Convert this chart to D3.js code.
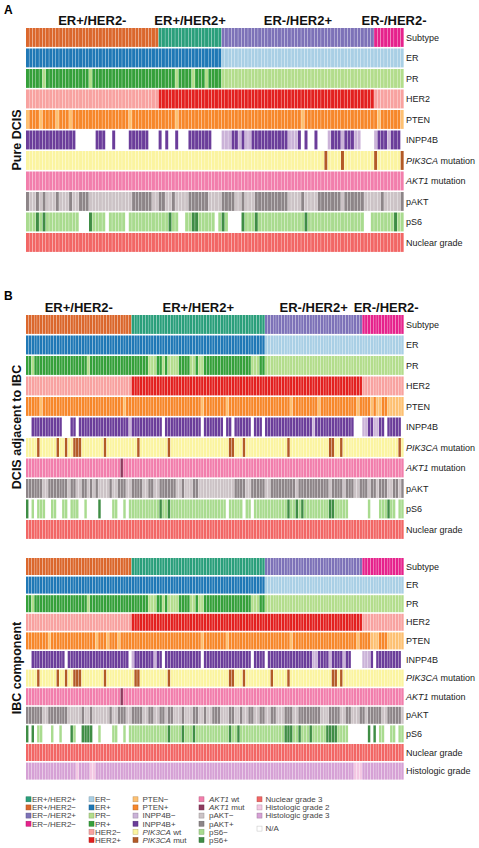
<!DOCTYPE html>
<html><head><meta charset="utf-8">
<script src="https://cdn.jsdelivr.net/npm/d3@7"></script>
<style>body{margin:0;background:#fff}svg{display:block;font-family:Arial,"Liberation Sans",sans-serif}</style>
</head><body><svg id="c" width="479" height="848"></svg>
<script>
// ---------- DATA (run-length: [value, number of consecutive samples]) ----------
const nA = 114, nB = 136;
const groupNames = {a:"ER+/HER2-", b:"ER+/HER2+", c:"ER-/HER2+", d:"ER-/HER2-"};
const rowLabels = ["Subtype","ER","PR","HER2","PTEN","INPP4B","PIK3CA mutation","AKT1 mutation","pAKT","pS6","Nuclear grade","Histologic grade"];

// Panel A – pure DCIS
const subtypeA = [["a",40],["b",19],["c",46],["d",9]];
const erA  = [["1",59],["0",55]];
const prA  = [["1",5],["0",1],["1",13],["0",1],["1",25],["0",1],["1",4],["0",1],["1",3],["0",1],["1",4],["0",55]];
const her2A = [["0",40],["1",65],["0",9]];
const ptenA = [["0",1],["1",3],["0",1],["1",4],["0",1],["1",3],["0",1],["1",17],["0",1],["1",13],["0",1],["1",37],["0",1],["1",22],["0",1],["1",6],["0",1]];
const inpp4bA = [["1",15],["n",6],["1",3],["n",2],["1",1],["n",4],["1",6],["n",3],["1",1],["n",1],["1",1],["n",2],["1",1],["n",3],["1",7],["n",3],
  ["0",3],["1",2],["0",1],["1",1],["0",2],["1",11],["0",3],["1",1],["n",1],["1",1],["n",2],["1",1],["n",3],["0",1],["1",3],["0",1],["1",3],["0",2],["n",4],["0",1],["1",3],["0",1],["1",3],["n",1]];
const pik3caA = [["0",90],["1",1],["0",4],["1",1],["0",9],["1",1],["0",7],["1",1]];
const akt1A = [["0",114]];
const paktA = [["1",1],["0",2],["1",1],["0",1],["1",1],["0",3],["1",1],["0",3],["1",1],["0",2],["1",3],["0",13],["1",6],["0",2],["1",2],["0",2],["1",1],["0",4],["1",6],["0",4],["1",4],["0",2],["1",1],["0",3],["1",10],["0",4],["1",1],["0",4],["1",7],["0",1],["1",6],["0",5],["1",1],["0",5],["1",1]];
const ps6A = [["0",3],["1",1],["0",1],["1",1],["0",10],["n",3],["1",1],["0",4],["n",1],["0",5],["n",1],["0",12],["1",1],["0",2],["n",2],["0",2],["1",2],["0",5],["n",1],["0",1],["1",1],["0",1],["n",4],["1",1],["0",3],["1",1],["0",14],["1",1],["0",17],["n",2],["0",7],["1",1],["0",2]];
const ngA = [["3",114]];

// Panel B – shared receptor status (paired samples)
const subtypeB = [["a",38],["b",48],["c",35],["d",15]];
const erB  = [["1",86],["0",50]];
const prB  = [["1",2],["0",1],["1",19],["0",1],["1",21],["0",3],["1",2],["0",1],["1",1],["0",4],["1",4],["0",2],["1",1],["0",2],["1",17],["0",3],["1",2],["0",50]];
const her2B = [["0",38],["1",83],["0",15]];

// Panel B – DCIS adjacent to IBC
const ptenB1 = [["1",5],["0",1],["1",29],["0",1],["1",27],["0",1],["1",8],["0",1],["1",22],["0",1],["1",9],["0",1],["1",13],["0",1],["1",4],["0",1],["1",1],["0",2],["1",2],["0",6]];
const inpp4bB1 = [["n",2],["1",11],["n",3],["1",2],["n",1],["1",18],["0",1],["1",11],["n",1],["1",13],["n",1],["1",7],["n",1],["1",2],["n",1],["1",6],["n",1],["1",3],["n",1],["1",17],["0",1],["1",14],["n",3],["0",2],["1",2],["0",2],["1",2],["n",1],["1",5],["n",1]];
const pik3caB1 = [["0",4],["1",1],["0",6],["1",1],["0",2],["1",1],["0",2],["1",3],["0",8],["1",1],["0",11],["1",1],["0",10],["1",1],["0",21],["1",2],["0",3],["1",1],["0",15],["1",1],["0",14],["1",2],["0",2],["1",1],["0",20],["1",1],["0",1]];
const akt1B1 = [["0",34],["1",1],["0",101]];
const paktB1 = [["1",6],["0",2],["1",7],["0",1],["1",2],["0",2],["1",2],["0",1],["1",1],["0",1],["1",1],["0",4],["1",1],["0",2],["1",3],["0",2],["1",4],["0",2],["1",2],["0",2],["1",6],["0",2],["1",1],["0",3],["1",2],["0",13],["1",4],["0",2],["1",5],["0",2],["1",9],["0",1],["1",11],["0",1],["1",4],["0",1],["1",3],["0",2],["1",3],["0",1],["1",2],["0",1],["1",3],["0",2],["1",2],["0",1],["1",1]];
const ps6B1 = [["1",1],["n",1],["0",1],["n",1],["0",3],["n",2],["0",2],["n",2],["0",2],["n",1],["0",3],["n",2],["0",1],["n",4],["1",1],["n",4],["0",2],["n",2],["0",1],["n",1],["0",11],["1",1],["0",2],["1",1],["0",20],["n",1],["0",5],["n",1],["0",2],["n",1],["0",12],["1",1],["0",2],["1",1],["0",1],["1",1],["0",9],["1",2],["0",5],["n",7],["0",1],["n",3],["0",3],["1",1],["0",2],["n",1],["0",2]];
const ngB1 = [["3",136]];

// Panel B – IBC component
const ptenB2 = [["1",8],["0",1],["1",16],["0",1],["1",3],["0",1],["1",3],["0",1],["1",29],["0",1],["1",8],["0",1],["1",22],["0",1],["1",23],["0",1],["1",4],["0",3],["1",3],["0",6]];
const inpp4bB2 = [["n",2],["1",12],["n",1],["1",22],["n",1],["0",1],["1",7],["0",1],["1",2],["n",1],["1",13],["n",1],["1",17],["n",1],["1",4],["n",1],["1",16],["0",2],["1",4],["0",1],["1",4],["0",1],["1",2],["n",4],["0",3],["1",1],["n",1],["1",9],["n",1]];
const pik3caB2 = [["0",4],["1",1],["0",6],["1",1],["0",2],["1",1],["0",2],["1",3],["0",8],["1",1],["0",10],["1",2],["0",10],["1",1],["0",21],["1",2],["0",3],["1",1],["0",9],["1",1],["0",5],["1",1],["0",15],["1",2],["0",1],["1",1],["0",22]];
const akt1B2 = [["0",34],["1",1],["0",101]];
const paktB2 = [["1",6],["0",2],["1",7],["0",5],["1",1],["0",2],["1",1],["0",6],["1",1],["0",2],["1",3],["0",2],["1",4],["0",2],["1",2],["0",2],["1",2],["0",1],["1",2],["0",3],["1",1],["0",3],["1",2],["0",2],["1",1],["0",2],["1",3],["0",3],["1",2],["0",2],["1",1],["0",2],["1",2],["0",2],["1",2],["0",2],["1",2],["0",3],["1",3],["0",2],["1",8],["0",3],["1",4],["0",2],["1",2],["0",3],["1",2],["0",1],["1",5],["0",2],["1",5],["0",1]];
const ps6B2 = [["1",1],["n",1],["1",1],["n",1],["0",2],["n",3],["0",1],["n",2],["0",1],["n",3],["1",1],["0",1],["n",2],["1",4],["n",2],["0",1],["n",4],["0",2],["n",2],["0",1],["n",1],["0",14],["1",1],["0",4],["1",1],["0",3],["1",1],["0",12],["1",1],["0",2],["1",1],["0",16],["1",3],["0",2],["1",1],["0",3],["1",1],["0",5],["1",4],["0",4],["n",7],["1",1],["n",1],["1",1],["n",1],["0",2],["n",2],["0",2],["n",1],["0",2]];
const ngB2 = [["3",136]];
const hgB2 = [["3",18],["2",1],["3",4],["2",2],["3",93],["2",3],["3",15]];

// ---------- COLOURS ----------
const pal = {
  "Subtype": {a:"#DB672C", b:"#2A9F7B", c:"#7D72B8", d:"#E6228C"},
  "ER": {"1":"#1F78B6", "0":"#A9CFE5"},
  "PR": {"1":"#35A03A", "0":"#B3DD8C"},
  "HER2": {"1":"#E3201F", "0":"#F8A2A0"},
  "PTEN": {"1":"#F7872A", "0":"#FDC072"},
  "INPP4B": {"1":"#6B3D9A", "0":"#CBB3D8"},
  "PIK3CA mutation": {"0":"#FBF4A0", "1":"#B35A27"},
  "AKT1 mutation": {"0":"#F27EAC", "1":"#8E3B5E"},
  "pAKT": {"0":"#CCC3C6", "1":"#8D8588"},
  "pS6": {"0":"#A9DB8F", "1":"#3F8D45"},
  "Nuclear grade": {"3":"#F26665"},
  "Histologic grade": {"2":"#F4C8E3", "3":"#D6A1D5"}
};

const expand = runs => runs.flatMap(([v,k]) => Array(k).fill(v));

const svg = d3.select("#c");
const L = 26, R = 404;

function section(n, rows, top, pitch, gap) {
  const x = d3.scaleBand().domain(d3.range(n)).range([L, R]).padding(0);
  const names = rows.map(r => r[0]);
  const y = d3.scaleBand().domain(names).range([top, top + names.length*pitch - gap])
      .paddingInner(gap/pitch).paddingOuter(0);
  const g = svg.append("g");
  rows.forEach(([name, runs]) => {
    const vals = expand(runs);
    const cells = vals.map((v,i)=>({v,i})).filter(d => d.v !== "n");
    g.append("g").selectAll("rect").data(cells).join("rect")
      .attr("x", d => x(d.i)).attr("y", y(name))
      .attr("width", x.bandwidth() - 0.35).attr("height", y.bandwidth())
      .attr("fill", d => pal[name][d.v]);
    const t = g.append("text").attr("x", R + 2).attr("y", y(name) + y.bandwidth()/2)
      .attr("dy", "0.35em").attr("font-size", 9).attr("fill", "#222");
    const m = name.match(/^(PIK3CA|AKT1)( mutation)$/);
    if (m) { t.append("tspan").attr("font-style","italic").text(m[1]); t.append("tspan").text(m[2]); }
    else t.text(name);
  });
  return {x, y};
}

function headers(scale, runs, baseline, shiftLast) {
  let s = 0;
  runs.forEach(([c,k], idx) => {
    const cx = (scale(s) + scale(s+k-1) + scale.bandwidth())/2 + (idx === runs.length-1 ? shiftLast : 0);
    s += k;
    svg.append("text").attr("x", cx).attr("y", baseline).attr("text-anchor","middle")
      .attr("font-size", 13).attr("font-weight","bold").attr("fill","#111").text(groupNames[c]);
  });
}

function sideLabel(text, cx, cy) {
  svg.append("text").attr("transform", `translate(${cx},${cy}) rotate(-90)`)
    .attr("text-anchor","middle").attr("font-size", 12.5).attr("font-weight","bold").attr("fill","#111").text(text);
}

// Panel A
svg.append("text").attr("x",4).attr("y",13.5).attr("font-size",12).attr("font-weight","bold").text("A");
const sA = section(nA, [["Subtype",subtypeA],["ER",erA],["PR",prA],["HER2",her2A],["PTEN",ptenA],["INPP4B",inpp4bA],
  ["PIK3CA mutation",pik3caA],["AKT1 mutation",akt1A],["pAKT",paktA],["pS6",ps6A],["Nuclear grade",ngA]], 28, 20.5, 1.6);
headers(sA.x, subtypeA, 24.5, 5);
sideLabel("Pure DCIS", 20.5, 140);

// Panel B
svg.append("text").attr("x",4).attr("y",300).attr("font-size",12).attr("font-weight","bold").text("B");
const sB1 = section(nB, [["Subtype",subtypeB],["ER",erB],["PR",prB],["HER2",her2B],["PTEN",ptenB1],["INPP4B",inpp4bB1],
  ["PIK3CA mutation",pik3caB1],["AKT1 mutation",akt1B1],["pAKT",paktB1],["pS6",ps6B1],["Nuclear grade",ngB1]], 315, 20.5, 1.6);
headers(sB1.x, subtypeB, 312, 3);
sideLabel("DCIS adjacent to IBC", 20.5, 427);

const sB2 = section(nB, [["Subtype",subtypeB],["ER",erB],["PR",prB],["HER2",her2B],["PTEN",ptenB2],["INPP4B",inpp4bB2],
  ["PIK3CA mutation",pik3caB2],["AKT1 mutation",akt1B2],["pAKT",paktB2],["pS6",ps6B2],["Nuclear grade",ngB2],["Histologic grade",hgB2]], 558, 18.6, 1.6);
sideLabel("IBC component", 20.5, 668);

// ---------- LEGEND ----------
const legendCols = [
  {x:26, tx:32, items:[["ER+/HER2+",pal.Subtype.b],["ER+/HER2−",pal.Subtype.a],["ER−/HER2+",pal.Subtype.c],["ER−/HER2−",pal.Subtype.d]]},
  {x:89, tx:95, items:[["ER−",pal.ER["0"]],["ER+",pal.ER["1"]],["PR−",pal.PR["0"]],["PR+",pal.PR["1"]],["HER2−",pal.HER2["0"]],["HER2+",pal.HER2["1"]]]},
  {x:133, tx:142.5, items:[["PTEN−",pal.PTEN["0"]],["PTEN+",pal.PTEN["1"]],["INPP4B−",pal.INPP4B["0"]],["INPP4B+",pal.INPP4B["1"]],["*PIK3CA* wt",pal["PIK3CA mutation"]["0"]],["*PIK3CA* mut",pal["PIK3CA mutation"]["1"]]]},
  {x:199, tx:209, items:[["*AKT1* wt",pal["AKT1 mutation"]["0"]],["*AKT1* mut",pal["AKT1 mutation"]["1"]],["pAKT−",pal.pAKT["0"]],["pAKT+",pal.pAKT["1"]],["pS6−",pal.pS6["0"]],["pS6+",pal.pS6["1"]]]},
  {x:257, tx:265.5, items:[["Nuclear grade 3",pal["Nuclear grade"]["3"]],["Histologic grade 2",pal["Histologic grade"]["2"]],["Histologic grade 3",pal["Histologic grade"]["3"]],["N/A","#fff",3.6]]}
];
const ly = d3.scaleLinear().domain([0,5]).range([799.3, 840]);
legendCols.forEach(col => {
  col.items.forEach(([label, color, pos], i) => {
    const cy = ly(pos !== undefined ? pos : i);
    svg.append("rect").attr("x", col.x).attr("y", cy-2.5).attr("width",5).attr("height",5)
      .attr("fill", color).attr("stroke", d3.color(color).darker(0.8)).attr("stroke-width",0.5);
    const t = svg.append("text").attr("x", col.tx).attr("y", cy).attr("dy","0.35em")
      .attr("font-size",8).attr("fill","#444");
    const m = label.match(/^\*(.+)\*(.*)$/);
    if (m) { t.append("tspan").attr("font-style","italic").text(m[1]); t.append("tspan").text(m[2]); }
    else t.text(label);
  });
});
</script></body></html>
